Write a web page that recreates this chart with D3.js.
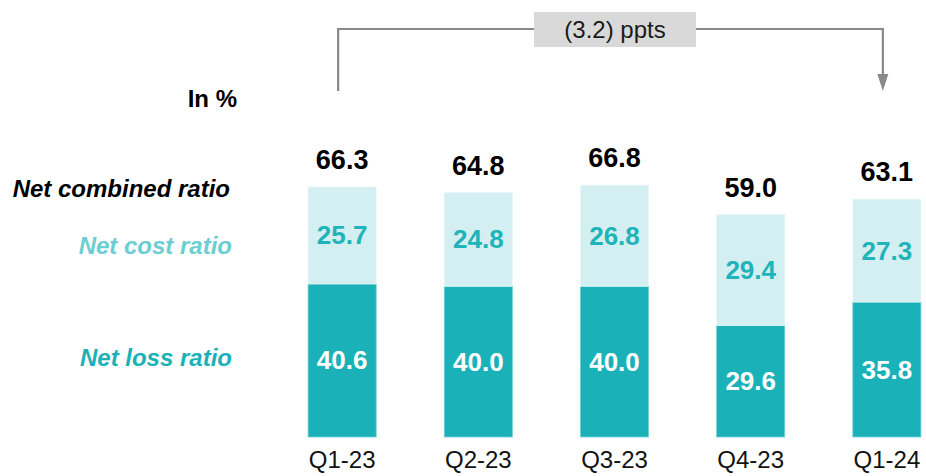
<!DOCTYPE html>
<html>
<head>
<meta charset="utf-8">
<script src="https://cdn.jsdelivr.net/npm/d3@7"></script>
<style>
  html, body { margin: 0; padding: 0; background: #ffffff; }
  svg { display: block; font-family: "Liberation Sans", Arial, Helvetica, sans-serif; }
</style>
</head>
<body>
<svg id="chart" width="926" height="476"></svg>
<script>
// Quarterly ratios, in %
const quarters = ["Q1-23", "Q2-23", "Q3-23", "Q4-23", "Q1-24"];
const netLossRatio = [40.6, 40.0, 40.0, 29.6, 35.8];
const netCostRatio = [25.7, 24.8, 26.8, 29.4, 27.3];
const netCombinedRatio = [66.3, 64.8, 66.8, 59.0, 63.1];
const changeLabel = "(3.2) ppts";

const svg = d3.select("#chart");

const x = d3.scaleBand().domain(quarters).range([240, 989]).padding(0.5);
const y = d3.scaleLinear().domain([0, 100]).range([437, 60]);

const teal = "#1ab2b8";
const lightTeal = "#d3eff1";
const costText = "#1fb4b9";

const rows = quarters.map((q, i) => ({
  q, loss: netLossRatio[i], cost: netCostRatio[i], total: netCombinedRatio[i]
}));

// Net loss ratio segments
svg.append("g").selectAll("rect").data(rows).join("rect")
  .attr("x", d => x(d.q))
  .attr("width", x.bandwidth())
  .attr("y", d => y(d.loss))
  .attr("height", d => y(0) - y(d.loss))
  .attr("fill", teal)
  .attr("stroke", "#6fd0d4").attr("stroke-width", 0.8);

// Net cost ratio segments, stacked on top
svg.append("g").selectAll("rect").data(rows).join("rect")
  .attr("x", d => x(d.q))
  .attr("width", x.bandwidth())
  .attr("y", d => y(d.loss + d.cost))
  .attr("height", d => y(d.loss) - y(d.loss + d.cost))
  .attr("fill", lightTeal)
  .attr("stroke", "#e6f7f8").attr("stroke-width", 0.8);

// Segment value labels
svg.append("g").selectAll("text").data(rows).join("text")
  .attr("x", d => x(d.q) + x.bandwidth() / 2)
  .attr("y", d => (y(0) + y(d.loss)) / 2 + 9)
  .attr("text-anchor", "middle")
  .attr("fill", "#ffffff").attr("font-weight", "bold").attr("font-size", 26)
  .text(d => d.loss.toFixed(1));

svg.append("g").selectAll("text").data(rows).join("text")
  .attr("x", d => x(d.q) + x.bandwidth() / 2)
  .attr("y", d => (y(d.loss) + y(d.loss + d.cost)) / 2 + 9)
  .attr("text-anchor", "middle")
  .attr("fill", costText).attr("font-weight", "bold").attr("font-size", 26)
  .text(d => d.cost.toFixed(1));

// Combined ratio totals above each bar
svg.append("g").selectAll("text").data(rows).join("text")
  .attr("x", d => x(d.q) + x.bandwidth() / 2)
  .attr("y", d => y(d.total) - 18)
  .attr("text-anchor", "middle")
  .attr("fill", "#000000").attr("font-weight", "bold").attr("font-size", 27)
  .text(d => d.total.toFixed(1));

// Category axis labels
const xAxis = svg.append("g")
  .attr("transform", `translate(0,${y(0)})`)
  .call(d3.axisBottom(x).tickSize(0).tickPadding(12));
xAxis.select(".domain").remove();
xAxis.selectAll("text")
  .attr("font-family", "Liberation Sans, Arial, sans-serif")
  .attr("font-size", 24).attr("fill", "#111111")
  .attr("dy", "0.8em");

// Row legend on the left
const legend = [
  { text: "In %", y: 107, x: 237, color: "#000000", italic: false },
  { text: "Net combined ratio", y: 197, x: 230, color: "#000000", italic: true },
  { text: "Net cost ratio", y: 254, x: 232, color: "#6ccdd2", italic: true },
  { text: "Net loss ratio", y: 366, x: 232, color: teal, italic: true }
];
svg.append("g").selectAll("text").data(legend).join("text")
  .attr("x", d => d.x).attr("y", d => d.y)
  .attr("text-anchor", "end")
  .attr("font-weight", "bold")
  .attr("font-style", d => d.italic ? "italic" : "normal")
  .attr("font-size", 24)
  .attr("fill", d => d.color)
  .text(d => d.text);

// Change bracket from first to last quarter
const xa = x(quarters[0]) + x.bandwidth() / 2 - 4;
const xb = x(quarters[quarters.length - 1]) + x.bandwidth() / 2 - 4;
const yTop = 29;
const arrowColor = "#898989";

svg.append("path")
  .attr("d", `M${xa},91 V${yTop} H${xb} V75`)
  .attr("fill", "none").attr("stroke", arrowColor).attr("stroke-width", 2.2);
svg.append("path")
  .attr("d", `M${xb - 5.5},74 L${xb + 5.5},74 L${xb},91 Z`)
  .attr("fill", arrowColor);

const boxW = 162, boxH = 35;
const boxCx = 615;
svg.append("rect")
  .attr("x", boxCx - boxW / 2).attr("y", 12)
  .attr("width", boxW).attr("height", boxH)
  .attr("fill", "#d9d9d9");
svg.append("text")
  .attr("x", boxCx).attr("y", 38)
  .attr("text-anchor", "middle")
  .attr("font-size", 24).attr("fill", "#1a1a1a")
  .text(changeLabel);
</script>
</body>
</html>
